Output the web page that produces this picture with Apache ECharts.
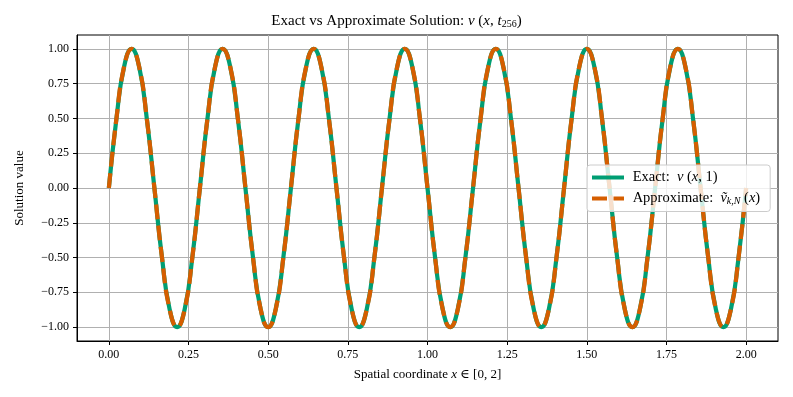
<!DOCTYPE html>
<html><head><meta charset="utf-8">
<script src="https://cdn.jsdelivr.net/npm/echarts@6/dist/echarts.min.js"></script>
<style>html,body{margin:0;padding:0;background:#fff}#c{width:793px;height:397px}</style>
</head><body><div id="c"></div>
<script>
// x positions (spatial coordinate)
const xs = [0,0.0238,0.0476,0.0714,0.0952,0.1190,0.1429,0.1667,0.1905,0.2143,0.2381,0.2619,
0.2857,0.3095,0.3333,0.3571,0.3810,0.4048,0.4286,0.4524,0.4762,0.5,0.5238,0.5476,
0.5714,0.5952,0.6190,0.6429,0.6667,0.6905,0.7143,0.7381,0.7619,0.7857,0.8095,0.8333,
0.8571,0.8810,0.9048,0.9286,0.9524,0.9762,1.0,1.0238,1.0476,1.0714,1.0952,1.1190,
1.1429,1.1667,1.1905,1.2143,1.2381,1.2619,1.2857,1.3095,1.3333,1.3571,1.3810,1.4048,
1.4286,1.4524,1.4762,1.5,1.5238,1.5476,1.5714,1.5952,1.6190,1.6429,1.6667,1.6905,
1.7143,1.7381,1.7619,1.7857,1.8095,1.8333,1.8571,1.8810,1.9048,1.9286,1.9524,1.9762,2.0];
// exact solution values
const exactVals = [0,0.5,0.87,1,0.87,0.5,0,-0.5,-0.87,-1,-0.87,-0.5,
0,0.5,0.87,1,0.87,0.5,0,-0.5,-0.87,-1,-0.87,-0.5,
0,0.5,0.87,1,0.87,0.5,0,-0.5,-0.87,-1,-0.87,-0.5,
0,0.5,0.87,1,0.87,0.5,0,-0.5,-0.87,-1,-0.87,-0.5,
0,0.5,0.87,1,0.87,0.5,0,-0.5,-0.87,-1,-0.87,-0.5,
0,0.5,0.87,1,0.87,0.5,0,-0.5,-0.87,-1,-0.87,-0.5,
0,0.5,0.87,1,0.87,0.5,0,-0.5,-0.87,-1,-0.87,-0.5,0];
// approximate solution values
const approxVals = [0,0.5,0.87,1,0.87,0.5,0,-0.5,-0.87,-1,-0.87,-0.5,
0,0.5,0.87,1,0.87,0.5,0,-0.5,-0.87,-1,-0.87,-0.5,
0,0.5,0.87,1,0.87,0.5,0,-0.5,-0.87,-1,-0.87,-0.5,
0,0.5,0.87,1,0.87,0.5,0,-0.5,-0.87,-1,-0.87,-0.5,
0,0.5,0.87,1,0.87,0.5,0,-0.5,-0.87,-1,-0.87,-0.5,
0,0.5,0.87,1,0.87,0.5,0,-0.5,-0.87,-1,-0.87,-0.5,
0,0.5,0.87,1,0.87,0.5,0,-0.5,-0.87,-1,-0.87,-0.5,0];
const xTicks = [0,0.25,0.5,0.75,1.0,1.25,1.5,1.75,2.0];
const yTicks = [-1.0,-0.75,-0.5,-0.25,0,0.25,0.5,0.75,1.0];

const F = '"Liberation Serif", "DejaVu Serif", serif';
const fmt = v => { const s = Number(v).toFixed(2); return s.replace('-', '\u2212'); };
const toPairs = (a, b) => a.map((x, i) => [x, b[i]]);

const chart = echarts.init(document.getElementById('c'));
chart.setOption({
  animation: false,
  backgroundColor: '#fff',
  title: {
    text: 'Exact vs Approximate Solution: {i|v} ({i|x}, {i|t}{s|256})',
    left: 'center', top: 8,
    textStyle: {
      fontFamily: F, fontSize: 15, fontWeight: 'normal', color: '#000',
      rich: {
        i: { fontFamily: F, fontSize: 15, fontStyle: 'italic', color: '#000' },
        s: { fontFamily: F, fontSize: 10, color: '#000', verticalAlign: 'bottom', padding: [6, 0, 0, 0] }
      }
    }
  },
  grid: { left: 77, right: 15, top: 35, bottom: 56, show: true, borderColor: '#000', borderWidth: 1, backgroundColor: 'transparent' },
  legend: {
    left: 587, top: 165, orient: 'vertical',
    itemWidth: 32, itemHeight: 14, itemGap: 6,
    padding: [5, 10, 5, 3],
    backgroundColor: 'rgba(255,255,255,0.8)', borderColor: '#ccc', borderWidth: 1, borderRadius: 3,
    itemStyle: { opacity: 0 },
    lineStyle: { width: 4 },
    data: ['Exact', 'Approximate'],
    formatter: n => n === 'Exact' ? ' Exact:  {i|v} ({i|x}, 1)' : ' Approximate:  {i|ṽ}{s|k,N} ({i|x})',
    textStyle: {
      fontFamily: F, fontSize: 14.5, color: '#000',
      rich: {
        i: { fontFamily: F, fontSize: 14.5, fontStyle: 'italic', color: '#000' },
        s: { fontFamily: F, fontSize: 10, fontStyle: 'italic', color: '#000', padding: [6, 0, 0, 0] }
      }
    }
  },
  xAxis: {
    type: 'value', min: -0.1, max: 2.1,
    name: 'Spatial coordinate {i|x} \u2208 [0, 2]', nameLocation: 'middle', nameGap: 27,
    nameTextStyle: { fontFamily: F, fontSize: 13, color: '#000',
      rich: { i: { fontFamily: F, fontSize: 13, fontStyle: 'italic', color: '#000' } } },
    axisLine: { onZero: false, lineStyle: { color: '#000' } },
    axisTick: { show: true, length: 4, customValues: xTicks, lineStyle: { color: '#000' } },
    axisLabel: { customValues: xTicks, formatter: fmt, fontFamily: F, fontSize: 12, color: '#000', margin: 8 },
    splitLine: { show: true, customValues: xTicks, lineStyle: { color: '#b0b0b0', width: 1 } }
  },
  yAxis: {
    type: 'value', min: -1.1, max: 1.1,
    name: 'Solution value', nameLocation: 'middle', nameGap: 51,
    nameTextStyle: { fontFamily: F, fontSize: 13, color: '#000' },
    axisLine: { onZero: false, lineStyle: { color: '#000' } },
    axisTick: { show: true, length: 4, customValues: yTicks, lineStyle: { color: '#000' } },
    axisLabel: { customValues: yTicks, formatter: fmt, fontFamily: F, fontSize: 12, color: '#000', margin: 8 },
    splitLine: { show: true, customValues: yTicks, lineStyle: { color: '#b0b0b0', width: 1 } }
  },
  series: [
    { name: 'Exact', type: 'line', data: toPairs(xs, exactVals), smooth: 0.5, showSymbol: false, symbol: 'none',
      itemStyle: { color: '#009E73' }, lineStyle: { color: '#009E73', width: 4.2 }, z: 2 },
    { name: 'Approximate', type: 'line', data: toPairs(xs, approxVals), smooth: 0.5, showSymbol: false, symbol: 'none',
      itemStyle: { color: '#D55E00' }, lineStyle: { color: '#D55E00', width: 4.2, type: [15, 6.5] }, z: 3 }
  ]
});
</script></body></html>
